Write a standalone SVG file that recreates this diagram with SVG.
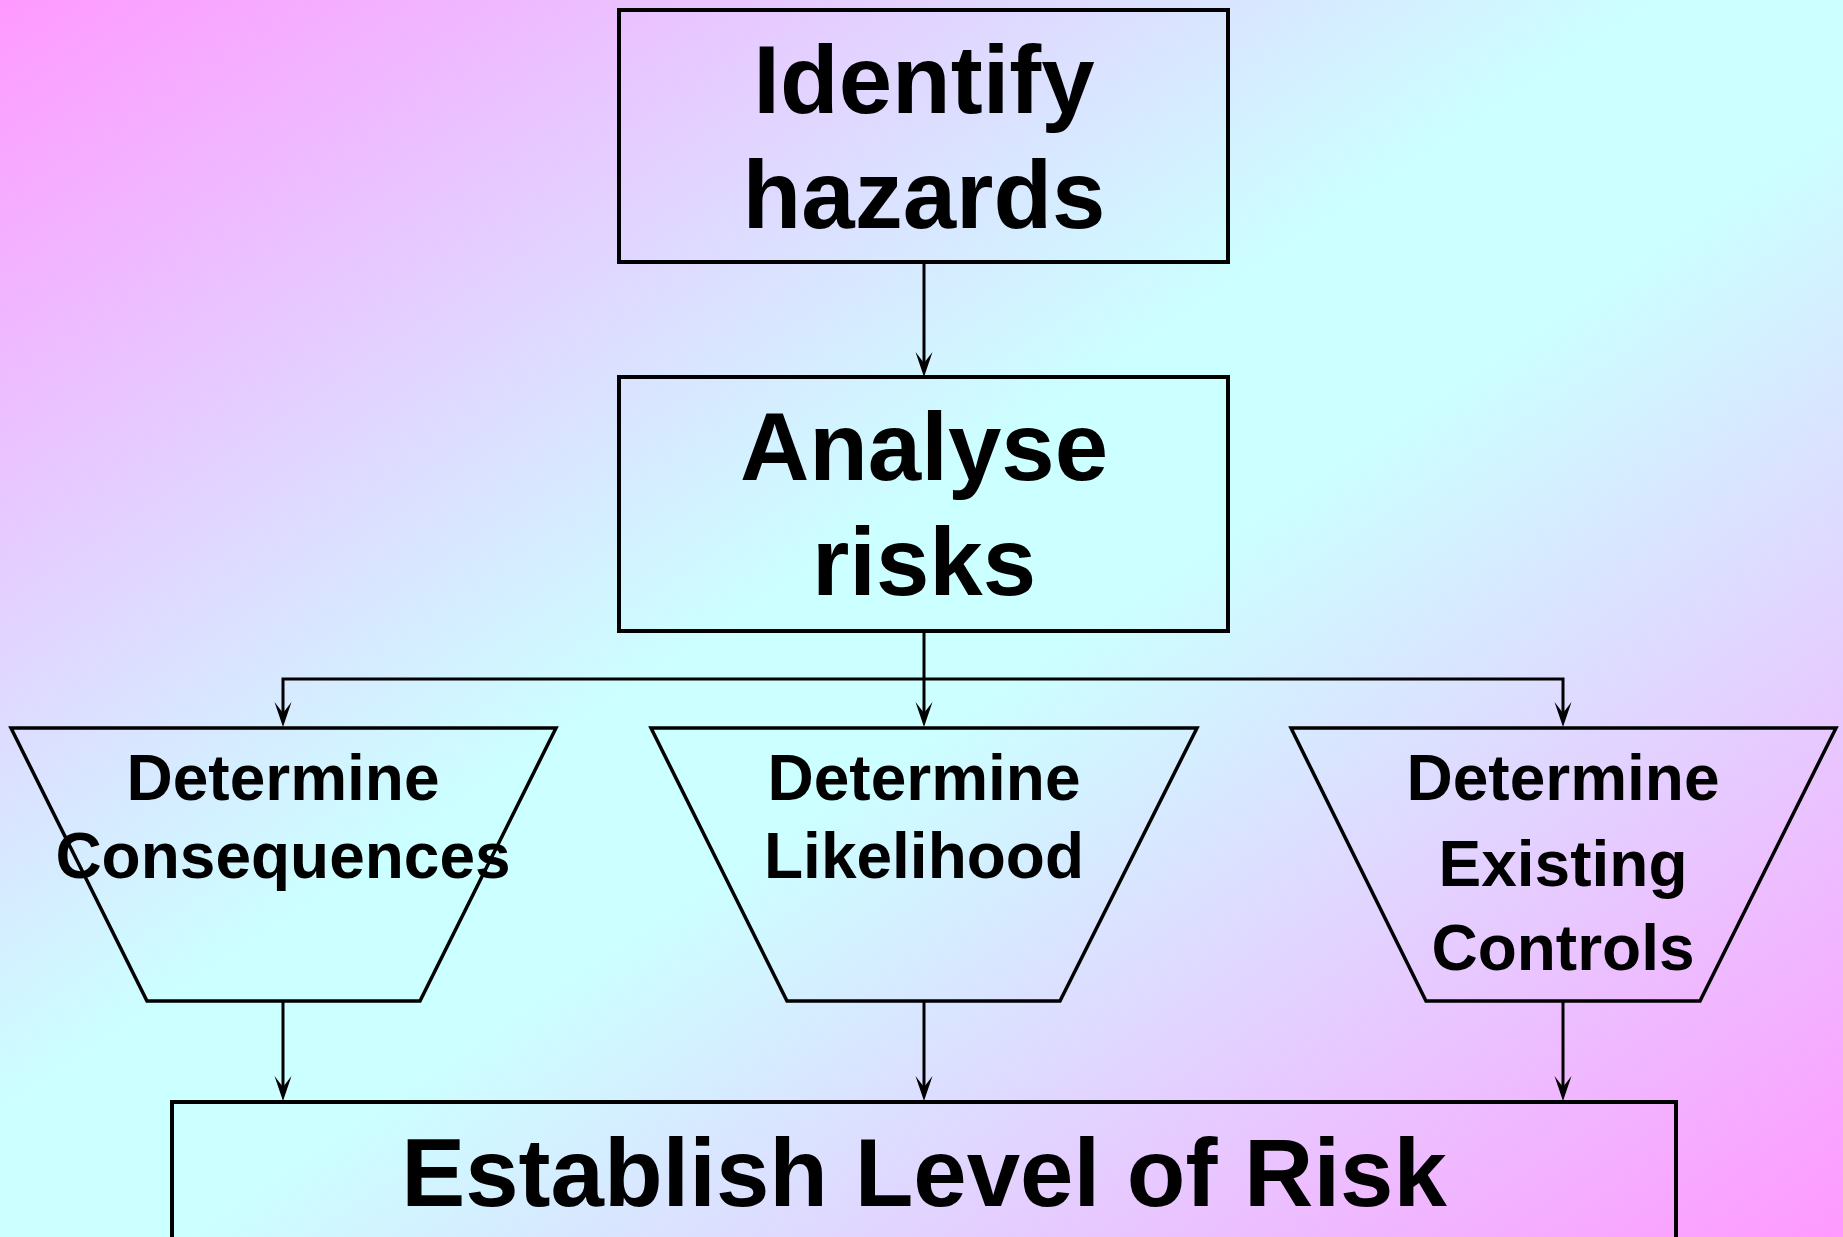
<svg xmlns="http://www.w3.org/2000/svg" width="1843" height="1237" viewBox="0 0 1843 1237">
  <defs>
    <linearGradient id="bg" x1="0" y1="0" x2="1" y2="1">
      <stop offset="0" stop-color="#FF99FF"/>
      <stop offset="0.45" stop-color="#CCFFFF"/>
      <stop offset="0.55" stop-color="#CCFFFF"/>
      <stop offset="1" stop-color="#FF99FF"/>
    </linearGradient>
    <marker id="ah" markerUnits="userSpaceOnUse" orient="auto" markerWidth="30" markerHeight="20" refX="0" refY="0" viewBox="-15 -10 30 20" overflow="visible">
      <path d="M10,0 L-15,-8.5 L-4,0 L-15,8.5 Z" fill="#000"/>
    </marker>
    <style>
      .box { fill: none; stroke: #000; stroke-width: 4; }
      .trap { fill: none; stroke: #000; stroke-width: 3.5; stroke-linejoin: miter; }
      .conn { fill: none; stroke: #000; stroke-width: 3; }
      .arrow { marker-end: url(#ah); }
      .big { font-family: "Liberation Sans", Arial, sans-serif; font-weight: bold; font-size: 96px; fill: #000; text-anchor: middle; }
      .mid { font-family: "Liberation Sans", Arial, sans-serif; font-weight: bold; font-size: 64px; fill: #000; text-anchor: middle; }
    </style>
  </defs>
  <rect x="0" y="0" width="1843" height="1237" fill="url(#bg)"/>

  <g id="connectors">
    <line class="conn arrow" x1="924" y1="262" x2="924" y2="367"/>
    <line class="conn arrow" x1="924" y1="631" x2="924" y2="717"/>
    <polyline class="conn arrow" points="924,679 283,679 283,717"/>
    <polyline class="conn arrow" points="924,679 1563,679 1563,717"/>
    <line class="conn arrow" x1="283" y1="1001" x2="283" y2="1091"/>
    <line class="conn arrow" x1="924" y1="1001" x2="924" y2="1091"/>
    <line class="conn arrow" x1="1563" y1="1001" x2="1563" y2="1091"/>
  </g>

  <g id="identify">
    <rect class="box" x="619" y="10" width="609" height="252"/>
    <text class="big" x="924" y="113">Identify</text>
    <text class="big" x="924" y="228">hazards</text>
  </g>

  <g id="analyse">
    <rect class="box" x="619" y="377" width="609" height="254"/>
    <text class="big" x="924" y="480">Analyse</text>
    <text class="big" x="924" y="595">risks</text>
  </g>

  <g id="consequences">
    <polygon class="trap" points="11,728 556,728 420,1001 147,1001"/>
    <text class="mid" x="283" y="800">Determine</text>
    <text class="mid" x="283" y="878">Consequences</text>
  </g>

  <g id="likelihood">
    <polygon class="trap" points="651,728 1197,728 1060,1001 787,1001"/>
    <text class="mid" x="924" y="800">Determine</text>
    <text class="mid" x="924" y="878">Likelihood</text>
  </g>

  <g id="controls">
    <polygon class="trap" points="1291,728 1836,728 1700,1001 1426,1001"/>
    <text class="mid" x="1563" y="800">Determine</text>
    <text class="mid" x="1563" y="886">Existing</text>
    <text class="mid" x="1563" y="970">Controls</text>
  </g>

  <g id="establish">
    <rect class="box" x="172" y="1102" width="1504" height="160"/>
    <text class="big" x="924" y="1206">Establish Level of Risk</text>
  </g>
</svg>
